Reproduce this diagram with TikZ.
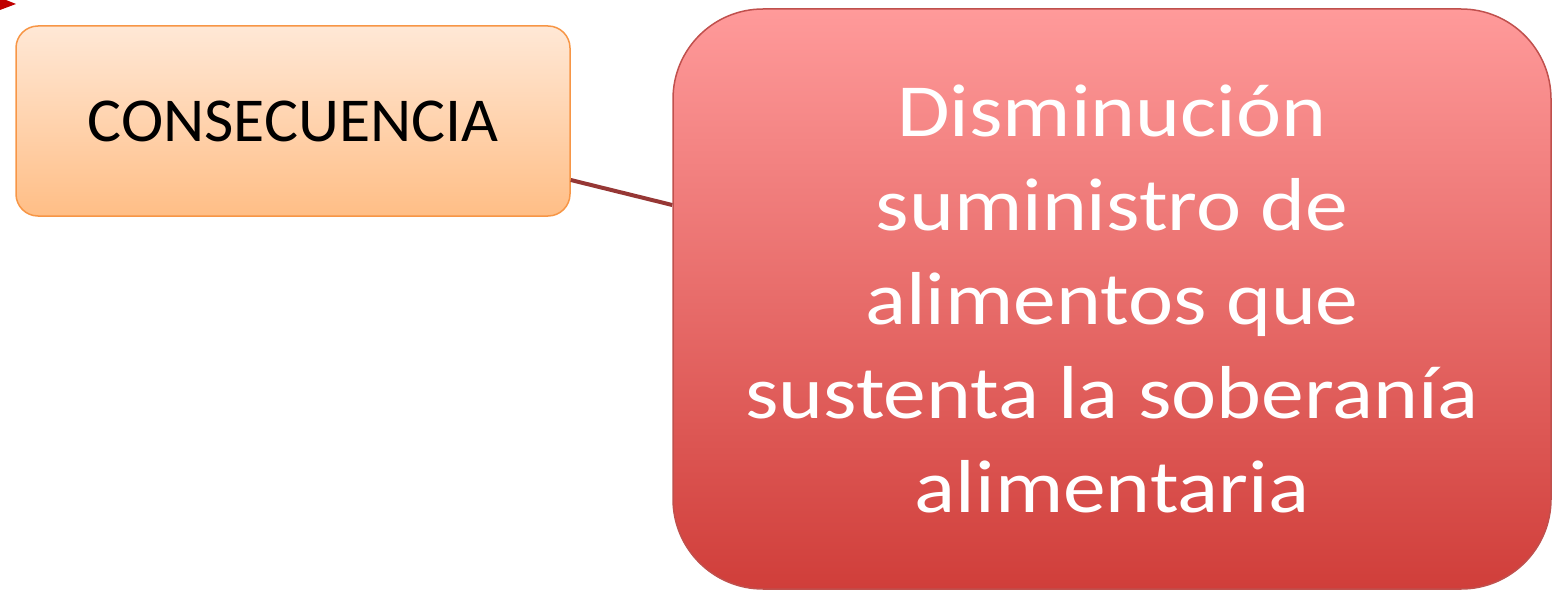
\documentclass[tikz,border=0pt]{standalone}
\usepackage{fontspec}
\setmainfont{Carlito}
\newfontfamily\consfont[FakeStretch=1.02]{Carlito}
\newfontfamily\redfont[FakeStretch=1.14]{Carlito}
\usetikzlibrary{calc}
\definecolor{orTop}{RGB}{255,232,214}
\definecolor{orBot}{RGB}{255,190,134}
\definecolor{orLine}{RGB}{247,150,70}
\definecolor{rdTop}{RGB}{255,154,154}
\definecolor{rdBot}{RGB}{208,62,58}
\definecolor{rdLine}{RGB}{192,80,77}
\definecolor{conn}{RGB}{150,55,53}
\definecolor{tipred}{RGB}{192,0,0}
\tikzset{
  consbox/.style={draw=orLine, line width=1.5pt, rounded corners=22pt,
    top color=orTop, bottom color=orBot, minimum width=554pt, minimum height=190pt,
    inner sep=0pt, font=\consfont\fontsize{62.5}{70}\selectfont, text=black},
  redbox/.style={draw=rdLine, line width=1.5pt, rounded corners=90pt,
    top color=rdTop, bottom color=rdBot, minimum width=878pt, minimum height=580pt,
    inner sep=0pt, align=center, text=white, font=\redfont\fontsize{75}{94}\selectfont},
  connector/.style={draw=conn, line width=4pt}
}
\begin{document}
\begin{tikzpicture}[x=1pt,y=-1pt]
\useasboundingbox (0,0) rectangle (1552,591);
\fill[tipred] (0,0) -- (6,0) -- (16,4) -- (0,10) -- cycle;
\node[consbox] (cons) at (293,121) {CONSECUENCIA};
\node[redbox] (dis) at (1112,299) {Disminución\\suministro de\\alimentos que\\sustenta la soberanía\\alimentaria};
\draw[connector] ($(cons.east)+(0,59)$) -- ($(dis.west)+(0,-94)$);
\end{tikzpicture}
\end{document}
